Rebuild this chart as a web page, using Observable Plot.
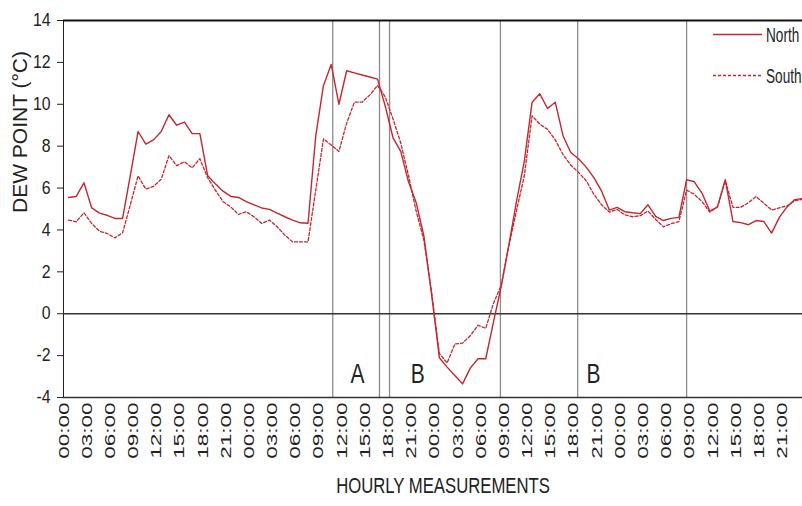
<!DOCTYPE html>
<html>
<head>
<meta charset="utf-8">
<script src="https://cdn.jsdelivr.net/npm/d3@7"></script>
<script src="https://cdn.jsdelivr.net/npm/@observablehq/plot@0.6"></script>
<style>
  html, body { margin: 0; padding: 0; background: #fff; }
</style>
</head>
<body>
<div id="chart"></div>
<script>
// Hourly dew point (°C) at the two sites, starting at 00:00 on the first day.
const seriesNames = ["North", "South"];

const north = [
  5.55, 5.6, 6.25, 5.05, 4.8, 4.7, 4.55, 4.55, 6.6, 8.7, 8.1, 8.3, 8.7, 9.5, 9.0, 9.15, 8.6, 8.6,
  6.6, 6.2, 5.85, 5.6, 5.55, 5.35, 5.2, 5.05, 4.98, 4.8, 4.63, 4.47, 4.34, 4.32,
  8.5, 10.9, 11.9, 10.0, 11.6, 11.5, 11.4, 11.3, 11.2, 9.9, 8.4, 7.75, 6.3, 5.3, 3.7, 0.9,
  -2.1, -2.55, -2.95, -3.35, -2.6, -2.15, -2.15, -0.4, 1.3, 3.3, 5.4, 7.3, 10.1, 10.5, 9.8, 10.1,
  8.5, 7.7, 7.4, 7.0, 6.5, 5.85, 4.95, 5.08, 4.87, 4.82, 4.78, 5.2, 4.65, 4.45, 4.55, 4.6,
  6.4, 6.3, 5.75, 4.9, 5.1, 6.4, 4.4, 4.35, 4.25, 4.45, 4.4, 3.85, 4.6, 5.1, 5.45, 5.5
];

const south = [
  4.47, 4.39, 4.82, 4.31, 3.94, 3.83, 3.62, 3.86, 5.2, 6.58, 5.95, 6.08, 6.42, 7.55, 7.07, 7.26, 6.97, 7.4,
  6.5, 5.9, 5.35, 5.1, 4.74, 4.87, 4.63, 4.31, 4.47, 4.15, 3.75, 3.43, 3.43, 3.43,
  5.9, 8.35, 8.05, 7.75, 9.1, 10.1, 10.1, 10.45, 10.9, 10.35, 9.3, 8.15, 6.6, 4.9, 3.5, 1.0,
  -1.9, -2.35, -1.45, -1.4, -1.05, -0.55, -0.7, 0.5, 1.35, 3.25, 4.95, 6.6, 9.45, 9.05, 8.8, 8.3,
  7.6, 7.1, 6.75, 6.35, 5.7, 5.2, 4.85, 4.98, 4.72, 4.63, 4.68, 4.9, 4.5, 4.15, 4.3, 4.4,
  5.9, 5.7, 5.35, 4.85, 5.1, 6.35, 5.08, 5.08, 5.3, 5.6, 5.27, 4.95, 5.05, 5.15, 5.4, 5.46
];

// Time-of-day labels, one every three hours
const tickLabels = [
  "00:00", "03:00", "06:00", "09:00", "12:00", "15:00", "18:00", "21:00",
  "00:00", "03:00", "06:00", "09:00", "12:00", "15:00", "18:00", "21:00",
  "00:00", "03:00", "06:00", "09:00", "12:00", "15:00", "18:00", "21:00",
  "00:00", "03:00", "06:00", "09:00", "12:00", "15:00", "18:00", "21:00"
];
const tickStep = 3;

// Period boundaries (hours since start) and the period names
const eventHours = [34.2, 40.25, 41.55, 55.9, 65.9, 80.0];
const periodLabels = ["A", "B", "B"];
const periodHours = [37.4, 45.2, 67.95];

const yDomain = [-4, 14];
const yTicks = [-4, -2, 0, 2, 4, 6, 8, 10, 12, 14];
const xDomain = [-0.65, 95];

const yTitle = "DEW POINT (°C)";
const xTitle = "HOURLY MEASUREMENTS";

const red = "#c3272f";
const toRows = values => values.map((v, i) => ({hour: i, value: v}));
const northRows = toRows(north);
const southRows = toRows(south);

const chart = Plot.plot({
  width: 802,
  height: 506,
  marginTop: 20,
  marginBottom: 109,
  marginLeft: 63,
  marginRight: 0,
  style: {
    fontFamily: "'Liberation Sans', Arial, sans-serif",
    fontSize: "18px",
    color: "#222",
    background: "#fff"
  },
  x: {domain: xDomain, axis: null},
  y: {domain: yDomain, ticks: yTicks, tickSize: 6, tickPadding: 7, line: true, label: null, tickFormat: d => String(d)},
  marks: [
    Plot.ruleX(eventHours, {stroke: "#8c8c8c", strokeWidth: 1.3}),
    Plot.ruleY([0], {stroke: "#333", strokeWidth: 1.6}),
    Plot.ruleY([yDomain[1]], {stroke: "#111", strokeWidth: 2}),
    Plot.ruleY([yDomain[0]], {stroke: "#333", strokeWidth: 1.5}),
    Plot.line(southRows, {x: "hour", y: "value", stroke: red, strokeWidth: 1.3, strokeDasharray: "3,2"}),
    Plot.line(northRows, {x: "hour", y: "value", stroke: red, strokeWidth: 1.4}),
    Plot.text(periodLabels, {
      x: (d, i) => periodHours[i], text: d => d,
      frameAnchor: "bottom", dy: -15, fontSize: 28, fill: "#222"
    }),
    Plot.text(tickLabels, {
      x: (d, i) => i * tickStep, text: d => d,
      frameAnchor: "bottom", dy: 5, rotate: -90, textAnchor: "end",
      fontSize: 22.5, fill: "#222"
    }),
    Plot.text([yTitle], {
      frameAnchor: "left", dx: -43, dy: 4, rotate: -90, fontSize: 21, fill: "#222"
    }),
    Plot.text([xTitle], {
      frameAnchor: "bottom", dx: 10, dy: 95, fontSize: 22, fill: "#222"
    })
  ]
});

document.getElementById("chart").appendChild(chart);
const svgNode = chart.tagName.toLowerCase() === "svg" ? chart : chart.querySelector("svg");
const svg = d3.select(svgNode);

// Narrow the glyphs of a text element around its own anchor point.
// Pixel x/y attributes move into the transform; em offsets stay local.
function stretch(node, sx, sy) {
  let t = node.getAttribute("transform") || "";
  let tx = 0, ty = 0;
  for (const a of ["x", "y"]) {
    const v = node.getAttribute(a);
    if (v !== null && v.trim() !== "" && !isNaN(+v)) {
      if (a === "x") tx = +v; else ty = +v;
      node.removeAttribute(a);
    }
  }
  if (tx || ty) t += ` translate(${tx},${ty})`;
  node.setAttribute("transform", `${t} scale(${sx},${sy})`);
}
const hourSet = new Set(tickLabels);
const periodSet = new Set(periodLabels);
const yTickSet = new Set(yTicks.map(String));
svg.selectAll("text").each(function () {
  const s = this.textContent;
  if (hourSet.has(s)) stretch(this, 1, 0.62);
  else if (periodSet.has(s)) stretch(this, 0.75, 1);
  else if (s === xTitle) stretch(this, 0.76, 1);
  else if (yTickSet.has(s)) stretch(this, 0.88, 1);
});

// Legend in the top-right corner
const legend = svg.append("g").attr("aria-label", "legend");
const legendRows = [
  {name: seriesNames[0], dash: null, y: 34.5},
  {name: seriesNames[1], dash: "3,2", y: 75.5}
];
legendRows.forEach(r => {
  legend.append("line")
    .attr("x1", 713).attr("x2", 762).attr("y1", r.y).attr("y2", r.y)
    .attr("stroke", red).attr("stroke-width", 1.4)
    .attr("stroke-dasharray", r.dash);
  legend.append("text")
    .attr("transform", `translate(766,${r.y}) scale(0.68,1)`)
    .attr("text-anchor", "start")
    .attr("dy", "0.35em")
    .attr("font-size", 20)
    .attr("fill", "#222")
    .text(r.name);
});
</script>
</body>
</html>
